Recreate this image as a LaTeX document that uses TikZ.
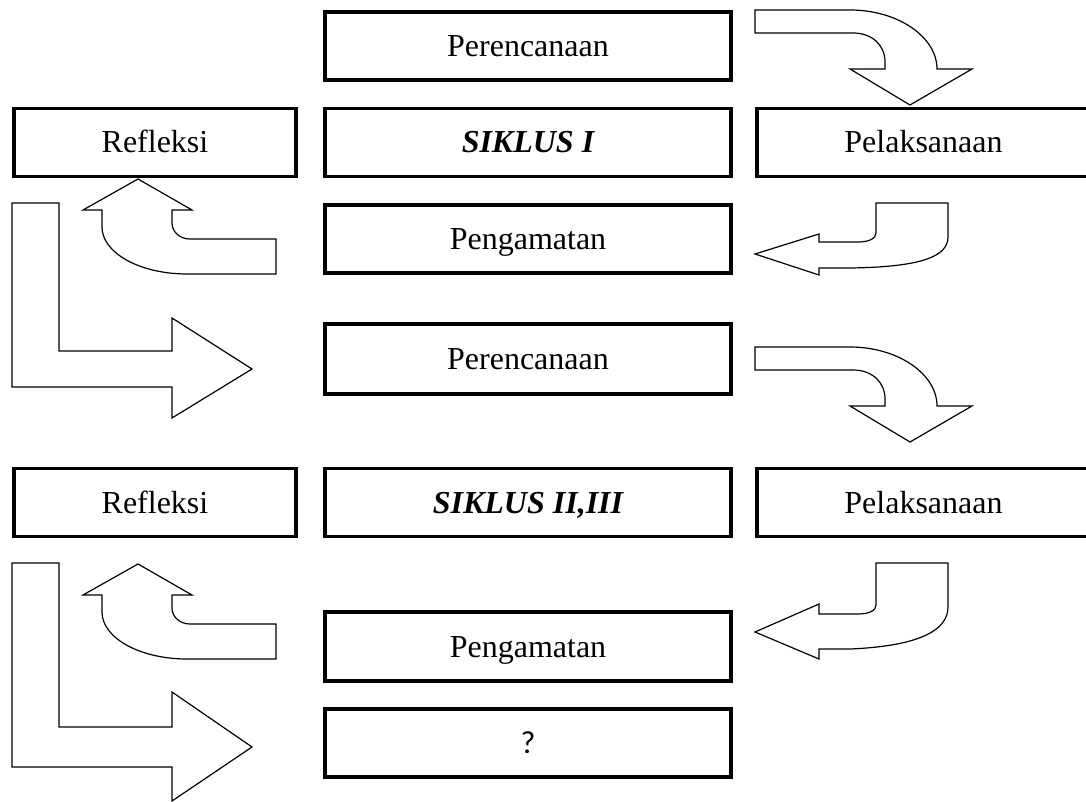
\documentclass[tikz,border=0pt]{standalone}
\usepackage{fontspec}
\setmainfont{Liberation Serif}
\newfontfamily\qfont{Carlito}
\begin{document}
\begin{tikzpicture}[x=1pt,y=-1pt,
  box/.style={draw=black, line width=3.5pt, rectangle, inner sep=0pt,
    font=\fontsize{32}{38}\selectfont, text height=21pt, text depth=0pt},
  midbox/.style={box, minimum width=406pt, minimum height=68pt},
  sidebox/.style={box, minimum height=68pt},
  barrow/.style={draw=black, fill=white, line width=1.2pt, line join=miter}]
\useasboundingbox (0,0) rectangle (1086,802);

% ---- block arrows, cycle 1 ----
\draw[barrow] (755,10) -- (850,10) .. controls (898,10) and (937,37) .. (937,69)
  -- (972,69) -- (910,105) -- (850,69) -- (885,69) -- (885,62)
  .. controls (885,45) and (872,33) .. (853,33) -- (755,33) -- cycle;
\draw[barrow] (876,203) -- (948,203) -- (948,237)
  .. controls (948,257) and (920,267) .. (850,268) -- (819,268) -- (819,275)
  -- (755,254) -- (819,234) -- (819,242) -- (858,242)
  .. controls (868,242) and (876,239) .. (876,233) -- cycle;
\draw[barrow] (138,179) -- (192,210) -- (172,210) -- (172,223)
  .. controls (172,232) and (180,239) .. (190,239) -- (276,239) -- (276,274)
  -- (187,274) .. controls (140,274) and (102,253) .. (102,227) -- (102,210)
  -- (83,210) -- cycle;
\draw[barrow] (12,203) -- (59,203) -- (59,351) -- (172,351) -- (172,318)
  -- (252,369) -- (172,418) -- (172,387) -- (12,387) -- cycle;

% ---- block arrows, cycle 2 ----
\begin{scope}[shift={(0,337)}]
\draw[barrow] (755,10) -- (850,10) .. controls (898,10) and (937,37) .. (937,69)
  -- (972,69) -- (910,105) -- (850,69) -- (885,69) -- (885,62)
  .. controls (885,45) and (872,33) .. (853,33) -- (755,33) -- cycle;
\end{scope}
\draw[barrow] (876,563) -- (948,563) -- (948,607)
  .. controls (948,630) and (920,646) .. (850,649) -- (819,649) -- (819,659)
  -- (755,632) -- (819,604) -- (819,614) -- (858,614)
  .. controls (870,614) and (876,610) .. (876,605) -- cycle;
\begin{scope}[shift={(0,385)}]
\draw[barrow] (138,179) -- (192,210) -- (172,210) -- (172,223)
  .. controls (172,232) and (180,239) .. (190,239) -- (276,239) -- (276,274)
  -- (187,274) .. controls (140,274) and (102,253) .. (102,227) -- (102,210)
  -- (83,210) -- cycle;
\end{scope}
\draw[barrow] (12,563) -- (59,563) -- (59,727) -- (172,727) -- (172,692)
  -- (252,747) -- (172,801) -- (172,767) -- (12,767) -- cycle;

% ---- boxes ----
\node[midbox] (per1) at (528,46) {Perencanaan};
\node[midbox] (sik1) at (528,142.5) {\bfseries\itshape SIKLUS I};
\node[midbox] (pen1) at (528,239) {Pengamatan};
\node[sidebox, minimum width=282pt] (ref1) at (155,142.5) {Refleksi};
\node[sidebox, minimum width=333pt] (pel1) at (923.5,142.5) {Pelaksanaan};

\node[midbox, minimum height=70pt] (per2) at (528,359) {Perencanaan};
\node[midbox] (sik2) at (528,502.5) {\bfseries\itshape SIKLUS II,III};
\node[midbox, minimum height=69pt] (pen2) at (528,646.5) {Pengamatan};
\node[midbox] (q) at (528,743) {\qfont ?};
\node[sidebox, minimum width=282pt] (ref2) at (155,502.5) {Refleksi};
\node[sidebox, minimum width=333pt] (pel2) at (923.5,502.5) {Pelaksanaan};
\end{tikzpicture}
\end{document}
